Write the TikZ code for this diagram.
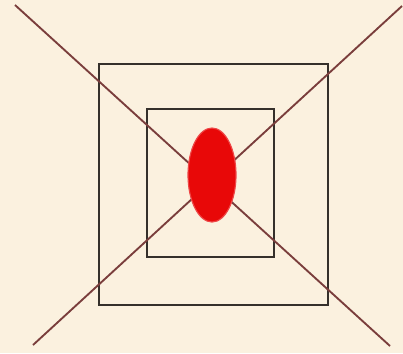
\documentclass[tikz,border=0pt]{standalone}
\usepackage{tikz}
\definecolor{paper}{HTML}{FBF1DF}
\definecolor{crossline}{HTML}{7A3E3C}
\definecolor{frameline}{HTML}{35302B}
\definecolor{spotred}{HTML}{E80808}
\tikzset{
  framebox/.style={draw=frameline, line width=2.4pt},
  crossstroke/.style={draw=crossline, line width=1.6pt},
  redspot/.style={fill=spotred, draw=spotred!75!white, line width=1pt}
}
\begin{document}
\begin{tikzpicture}[x=0.03cm, y=-0.03cm]
% background and page size
\fill[paper] (0,0) rectangle (403,353);
\useasboundingbox (0,0) rectangle (403,353);
% squares
\draw[framebox] (99,64) rectangle (328,305);
\draw[framebox] (147,109) rectangle (274,257);
% cross
\coordinate (tl) at (15,5);
\coordinate (br) at (390,346);
\coordinate (tr) at (402,6);
\coordinate (bl) at (33,345);
\draw[crossstroke] (tl) -- (br);
\draw[crossstroke] (tr) -- (bl);
% spot
\fill[redspot] (212,175) ellipse [x radius=24, y radius=47];
\end{tikzpicture}
\end{document}
